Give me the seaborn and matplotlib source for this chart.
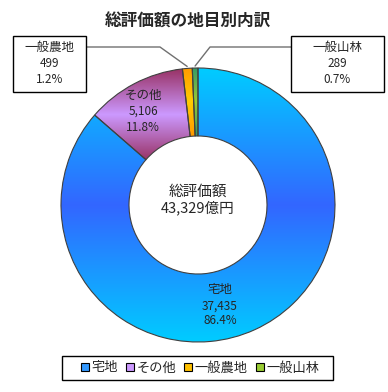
import numpy as np
import matplotlib
matplotlib.use("Agg")
import matplotlib.pyplot as plt
from matplotlib.patches import Rectangle
import matplotlib.colors as mcolors
import seaborn as sns

categories = ["宅地", "その他", "一般農地", "一般山林"]
values = [37435, 5106, 499, 289]
total_label = "43,329億円"
title = "総評価額の地目別内訳"
center_title = "総評価額"

# gradient colours (edge, centre) per slice and legend swatch colours
grad_edge = ["#00CCFF", "#993366", "#FF9900", "#339966"]
grad_mid = ["#3366FF", "#CC99FF", "#FFCC00", "#99CC33"]
legend_colors = ["#3399FF", "#CC99FF", "#FFC000", "#99CC33"]

sns.set_theme(style="white")
plt.rcParams["font.family"] = ["Noto Sans CJK JP", "DejaVu Sans"]

W, H = 388, 392
fig = plt.figure(figsize=(W / 100, H / 100), dpi=100)
ax = fig.add_axes([0, 0, 1, 1])

def Y(y):
    return H - y

cx, cy = 198, Y(205)
R, ring = 137, 68
total = sum(values)

wedges, _ = ax.pie(values, center=(cx, cy), radius=R, startangle=90,
                   counterclock=False,
                   wedgeprops=dict(width=ring, edgecolor="#404040",
                                   linewidth=0.8, facecolor="none"))

for w, ce, cm in zip(wedges, grad_edge, grad_mid):
    w.set_facecolor("none")
    w.set_zorder(3)
    ext = w.get_path().get_extents()
    n = 200
    t = np.linspace(0, 1, n)
    f = 1 - np.abs(2 * t - 1)
    e = np.array(mcolors.to_rgb(ce))
    m = np.array(mcolors.to_rgb(cm))
    img = (e[None, :] * (1 - f[:, None]) + m[None, :] * f[:, None])[:, None, :]
    im = ax.imshow(img, extent=(ext.x0, ext.x1, ext.y0, ext.y1),
                   origin="lower", aspect="auto", zorder=2,
                   interpolation="bilinear")
    im.set_clip_path(w)

pct = [v / total * 100 for v in values]
fmt_val = [f"{v:,}" for v in values]
fmt_pct = [f"{p:.1f}%" for p in pct]

# in-ring labels
ax.text(220, Y(290), categories[0], ha="center", va="center", fontsize=9, zorder=5)
ax.text(220, Y(306), fmt_val[0], ha="center", va="center", fontsize=8.5, zorder=5)
ax.text(220, Y(321), fmt_pct[0], ha="center", va="center", fontsize=8.5, zorder=5)
ax.text(143, Y(95), categories[1], ha="center", va="center", fontsize=9, zorder=5)
ax.text(143, Y(111), fmt_val[1], ha="center", va="center", fontsize=8.5, zorder=5)
ax.text(143, Y(127), fmt_pct[1], ha="center", va="center", fontsize=8.5, zorder=5)

# centre text
ax.text(cx, Y(192), center_title, ha="center", va="center", fontsize=10.5, zorder=5)
ax.text(cx, Y(208), total_label, ha="center", va="center", fontsize=10.5, zorder=5)

# title
ax.text(188, Y(22), title, ha="center", va="center", fontsize=12,
        fontweight="bold", zorder=5)

# callout boxes
cum = np.cumsum([0] + values)
def outer_point(i, extra=2):
    mid = (cum[i] + cum[i + 1]) / 2 / total
    ang = np.deg2rad(90 - 360 * mid)
    return cx + (R + extra) * np.cos(ang), cy + (R + extra) * np.sin(ang)

boxes = [(13, 36, 86, 92, 2, 160), (291, 36, 384, 92, 3, 210)]
for x0, y0, x1, y1, i, kx in boxes:
    ax.add_patch(Rectangle((x0, Y(y1)), x1 - x0, y1 - y0, facecolor="white",
                           edgecolor="black", linewidth=1, zorder=4))
    xc = (x0 + x1) / 2
    ax.text(xc, Y(47), categories[i], ha="center", va="center", fontsize=9, zorder=5)
    ax.text(xc, Y(63), fmt_val[i], ha="center", va="center", fontsize=8.5, zorder=5)
    ax.text(xc, Y(79), fmt_pct[i], ha="center", va="center", fontsize=8.5, zorder=5)
    px, py = outer_point(i)
    bx = x1 if x0 < cx else x0
    ax.plot([bx, kx, px], [Y(47), Y(47), py], color="#707070", lw=1, zorder=3)

# legend frame + legend entries
ax.add_patch(Rectangle((62, Y(380)), 271, 24, facecolor="white",
                       edgecolor="black", linewidth=1, zorder=4))
handles = [Rectangle((0, 0), 1, 1, facecolor=c, edgecolor="black", linewidth=0.8)
           for c in legend_colors]
leg = ax.legend(handles, categories, ncol=4, loc="center",
                bbox_to_anchor=(78 / W, 1 - 380 / H, 244 / W, 24 / H),
                mode="expand", frameon=False,
                fontsize=9.5, handlelength=0.6, handleheight=0.6,
                handletextpad=0.2, borderpad=0.2, borderaxespad=0)
leg.set_zorder(6)

ax.set_xlim(0, W)
ax.set_ylim(0, H)
ax.set_aspect("equal")
ax.axis("off")
fig.savefig("out.png", dpi=100, facecolor="white")
